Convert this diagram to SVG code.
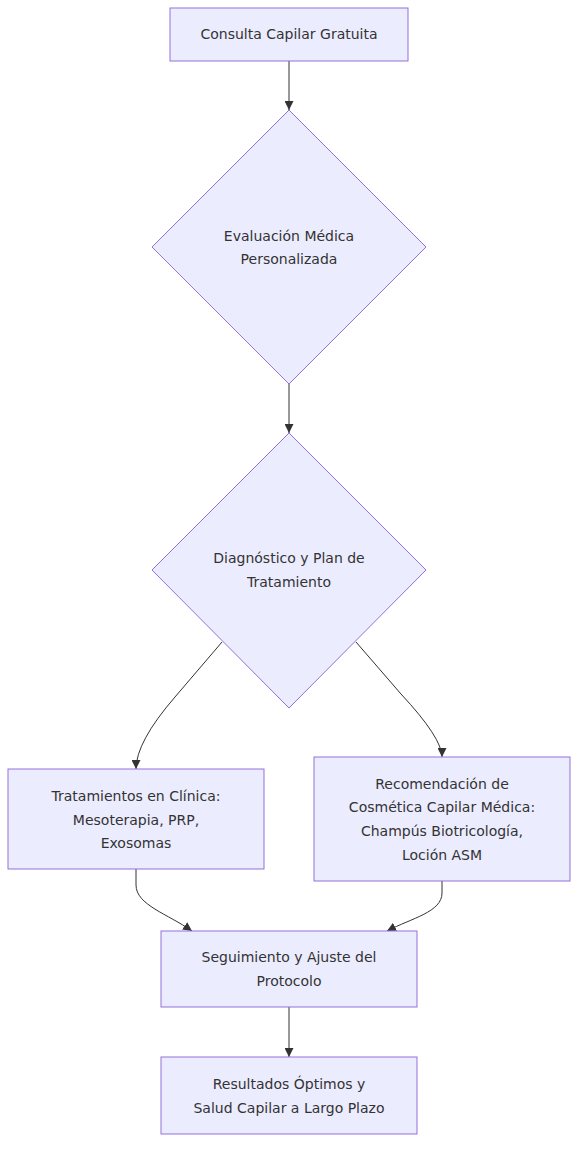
<svg xmlns="http://www.w3.org/2000/svg" width="586" height="1158" viewBox="0 0 586 1158">
<style>
.node rect, .node polygon { fill: #ECECFF; stroke: #9370DB; stroke-width: 1; }
.node text { font-family: "DejaVu Sans", "Liberation Sans", sans-serif; font-size: 14px; fill: #333333; text-anchor: middle; }
.edges path { fill: none; stroke: #333333; stroke-width: 1; }
</style>
<defs>
<marker id="arrow" viewBox="0 0 10 10" refX="10" refY="5" markerWidth="9" markerHeight="9" markerUnits="userSpaceOnUse" orient="auto">
<path d="M0,0 L10,5 L0,10 z" fill="#333333"/>
</marker>
</defs>
<rect width="586" height="1158" fill="#ffffff"/>
<g class="edges">
<path d="M289,61 L289,110" marker-end="url(#arrow)"/>
<path d="M289,384 L289,433" marker-end="url(#arrow)"/>
<path d="M222,642 L175,697 Q136,742 136,769" marker-end="url(#arrow)"/>
<path d="M356,642 L401,694 Q442,738 442,757" marker-end="url(#arrow)"/>
<path d="M136,869 L136,885 C136,905 168,914 192,931" marker-end="url(#arrow)"/>
<path d="M442,881 L442,893 C442,912 412,918 387,931" marker-end="url(#arrow)"/>
<path d="M289,1007 L289,1057" marker-end="url(#arrow)"/>
</g>
<g id="n1" class="node">
<rect x="170" y="8" width="238" height="53"/>
<text x="289" y="39">Consulta Capilar Gratuita</text>
</g>
<g id="n2" class="node">
<polygon points="289,110 426,247 289,384 152,247"/>
<text x="289" y="241">Evaluación Médica</text>
<text x="289" y="264">Personalizada</text>
</g>
<g id="n3" class="node">
<polygon points="289,433 426,570 289,708 152,570"/>
<text x="289" y="563">Diagnóstico y Plan de</text>
<text x="289" y="587">Tratamiento</text>
</g>
<g id="n4" class="node">
<rect x="8" y="769" width="256" height="100"/>
<text x="136" y="801">Tratamientos en Clínica:</text>
<text x="136" y="825">Mesoterapia, PRP,</text>
<text x="136" y="848">Exosomas</text>
</g>
<g id="n5" class="node">
<rect x="314" y="757" width="256" height="124"/>
<text x="442" y="789">Recomendación de</text>
<text x="442" y="812">Cosmética Capilar Médica:</text>
<text x="442" y="836">Champús Biotricología,</text>
<text x="442" y="860">Loción ASM</text>
</g>
<g id="n6" class="node">
<rect x="161" y="931" width="256" height="76"/>
<text x="289" y="962">Seguimiento y Ajuste del</text>
<text x="289" y="986">Protocolo</text>
</g>
<g id="n7" class="node">
<rect x="161" y="1057" width="256" height="77"/>
<text x="289" y="1089">Resultados Óptimos y</text>
<text x="289" y="1113">Salud Capilar a Largo Plazo</text>
</g>
</svg>
